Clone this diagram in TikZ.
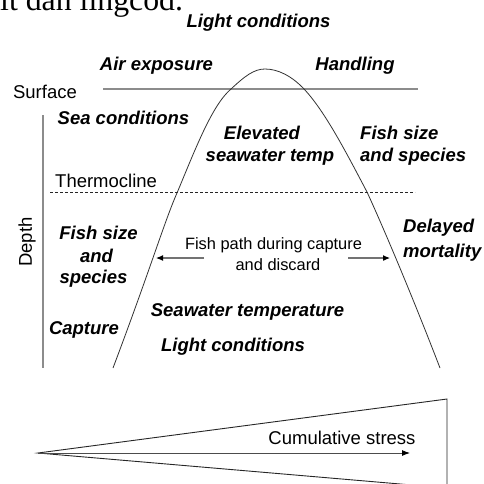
\documentclass[tikz,border=0pt]{standalone}
\usepackage{fontspec}
\setmainfont{Liberation Sans}
\newfontfamily\capserif{Liberation Serif}
\usetikzlibrary{arrows.meta}
\begin{document}
\begin{tikzpicture}[x=1pt,y=-1pt,
  lbl/.style={font=\fontsize{18.5}{20}\selectfont\bfseries\itshape, inner sep=0pt},
  plain/.style={font=\fontsize{18.5}{20}\selectfont, inner sep=0pt},
  smalltxt/.style={font=\fontsize{16.4}{18}\selectfont, inner sep=0pt},
  grayline/.style={draw=black!45, line width=1.3pt},
  curveline/.style={draw=black!80, line width=0.8pt},
  patharrow/.style={draw=black!55, line width=1.1pt, -{Latex[length=7pt,width=6pt,black]}},
  stressline/.style={draw=black!85, line width=0.9pt},
]
\useasboundingbox (0,0) rectangle (484,483);

% caption fragment
\node[font=\capserif\fontsize{31.8}{34}\selectfont, inner sep=0pt, anchor=base west] (cap) at (0,10.7) {it dan lingcod.};

% labels
\node[lbl] (lighttop) at (258.5,22.7) {Light conditions};
\node[lbl] (air) at (156.5,66) {Air exposure};
\node[lbl] (hand) at (355,66) {Handling};
\node[plain] (surf) at (45,92) {Surface};
\node[lbl] (sea) at (123.5,118) {Sea conditions};
\node[lbl] (elev) at (262,133) {Elevated};
\node[lbl] (swtemp) at (270,157) {seawater temp};
\node[lbl, anchor=west] (fsr1) at (360,133) {Fish size};
\node[lbl, anchor=west] (fsr2) at (360,157) {and species};
\node[plain, anchor=west] (thermo) at (55,181) {Thermocline};
\node[lbl] (fsl1) at (98.5,233) {Fish size};
\node[lbl] (fsl2) at (96.5,256) {and};
\node[lbl] (fsl3) at (93.5,279) {species};
\node[smalltxt] (fp1) at (273.5,245) {Fish path during capture};
\node[smalltxt] (fp2) at (278,265) {and discard};
\node[lbl, anchor=west] (del1) at (403,228) {Delayed};
\node[lbl, anchor=west] (del2) at (403,253) {mortality};
\node[lbl] (swt) at (247.5,312) {Seawater temperature};
\node[lbl] (capt) at (84,330) {Capture};
\node[lbl] (lightlow) at (233,347) {Light conditions};
\node[plain, rotate=90] (depth) at (27,242) {Depth};
\node[plain] (cum) at (342,438) {Cumulative stress};

% surface line, axis, thermocline
\coordinate (s1) at (103,89);
\coordinate (s2) at (418,89);
\draw[grayline] (s1) -- (s2);
\coordinate (ax1) at (43,115);
\coordinate (ax2) at (43,368);
\draw[grayline, line width=1.6pt] (ax1) -- (ax2);
\coordinate (t1) at (50,192);
\coordinate (t2) at (415,192);
\draw[black!85, line width=0.7pt, dash pattern=on 3pt off 2pt] (t1) -- (t2);

% fish path curve
\coordinate (cl) at (113,368);
\coordinate (ctop) at (265,69);
\coordinate (cr) at (440,368);
\draw[curveline] (cl) .. controls (150,270) and (165,220) .. (177,193)
  .. controls (195,150) and (212,105) .. (231,89)
  .. controls (245,76) and (254,69) .. (ctop)
  .. controls (278,69) and (292,76) .. (305,90)
  .. controls (325,112) and (345,150) .. (367,192)
  .. controls (380,220) and (410,290) .. (cr);

% path arrows
\coordinate (la1) at (204,258);
\coordinate (la2) at (156,258);
\coordinate (ra1) at (348,258);
\coordinate (ra2) at (390,258);
\draw[patharrow] (la1) -- (la2);
\draw[patharrow] (ra1) -- (ra2);

% cumulative stress wedge
\coordinate (apex) at (38,453);
\coordinate (wtop) at (447,399);
\coordinate (wbot) at (447,488);
\coordinate (arrend) at (410,453);
\draw[stressline] (wbot) -- (apex) -- (wtop) -- (wbot);
\draw[draw=black!70, line width=0.9pt, -{Latex[length=8pt,width=6pt,black]}] (apex) -- (arrend);
\end{tikzpicture}
\end{document}
